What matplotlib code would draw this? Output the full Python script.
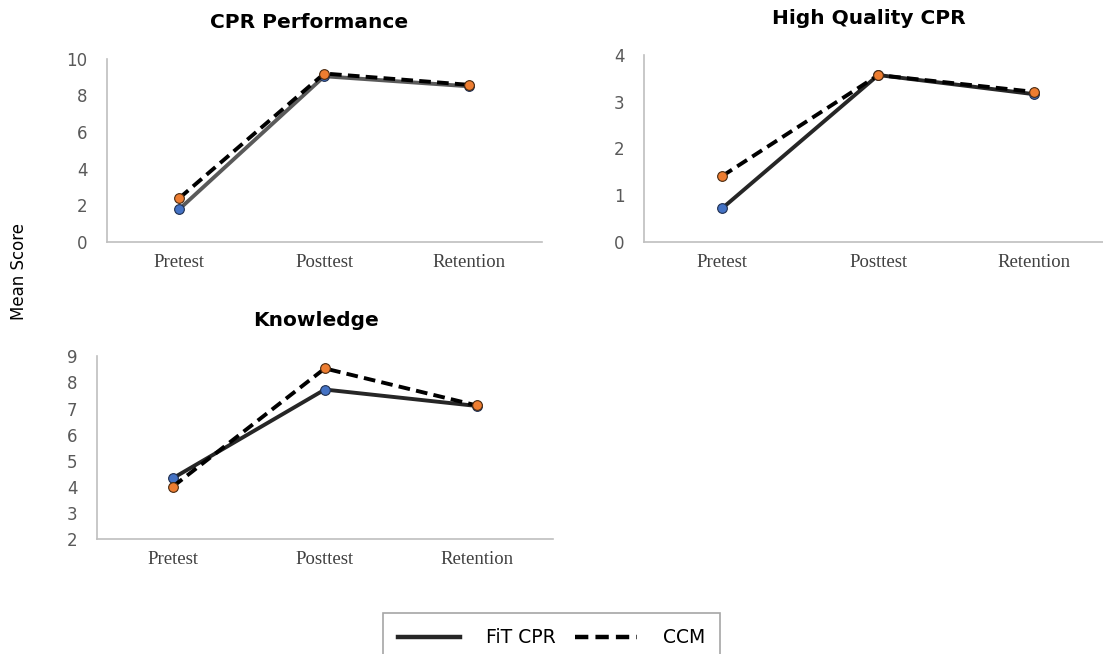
import matplotlib
matplotlib.use("Agg")
import matplotlib.pyplot as plt
from matplotlib.lines import Line2D

# data
stages = ["Pretest", "Posttest", "Retention"]

perf_fit = [1.8, 9.05, 8.5]
perf_ccm = [2.4, 9.2, 8.58]

hq_fit = [0.72, 3.57, 3.16]
hq_ccm = [1.41, 3.57, 3.21]

know_fit = [4.33, 7.73, 7.1]
know_ccm = [4.01, 8.54, 7.12]

BLUE = "#4472C4"
ORANGE = "#ED7D31"
SPINE = "#BFBFBF"
DASH = (0, (3, 1.6))


def panel(ax, fit, ccm, title, title_x, ylim, yticks, xlim, fit_color="#262626"):
    x = range(len(stages))
    ax.plot(x, fit, color=fit_color, lw=2.8, marker="o", ms=7,
            markerfacecolor=BLUE, markeredgecolor="#1f2f4f", markeredgewidth=0.8, zorder=3)
    ax.plot(x, ccm, color="black", lw=2.8, ls=DASH, marker="o", ms=7,
            markerfacecolor=ORANGE, markeredgecolor="#4a2a10", markeredgewidth=0.8, zorder=4)
    ax.set_ylim(*ylim)
    ax.set_yticks(yticks)
    ax.set_xlim(*xlim)
    ax.set_xticks(list(x))
    ax.set_xticklabels(stages, fontfamily="Liberation Serif", fontsize=13.5, color="#404040")
    ax.tick_params(axis="y", labelsize=12, labelcolor="#595959", length=0, pad=14)
    ax.tick_params(axis="x", length=0, pad=9)
    for s in ["top", "right"]:
        ax.spines[s].set_visible(False)
    for s in ["left", "bottom"]:
        ax.spines[s].set_color(SPINE)
        ax.spines[s].set_linewidth(1.2)
    ax.set_title(title, x=title_x, fontsize=14.5, fontweight="bold", pad=22)


fig = plt.figure(figsize=(11.03, 6.54), dpi=100)

ax1 = fig.add_axes([0.097, 0.630, 0.394, 0.280])
panel(ax1, perf_fit, perf_ccm, "CPR Performance", 0.464, (0, 10), range(0, 11, 2),
      (-0.5, 2.5), fit_color="#5a5a5a")

ax2 = fig.add_axes([0.584, 0.630, 0.416, 0.286])
panel(ax2, hq_fit, hq_ccm, "High Quality CPR", 0.49, (0, 4), range(0, 5), (-0.5, 2.44))

ax3 = fig.add_axes([0.088, 0.176, 0.413, 0.279])
panel(ax3, know_fit, know_ccm, "Knowledge", 0.48, (2, 9), range(2, 10), (-0.5, 2.5))

fig.text(0.017, 0.585, "Mean Score", rotation=90, fontsize=12, va="center", ha="center")

handles = [Line2D([], [], color="#262626", lw=3.2),
           Line2D([], [], color="black", lw=3.2, ls=DASH)]
fig.legend(handles, ["FiT CPR", "CCM"], loc="upper center", bbox_to_anchor=(0.5, 0.062),
           ncol=2, frameon=True, fontsize=13.5, handlelength=3.3, handletextpad=1.4,
           columnspacing=1.0, fancybox=False, edgecolor="#A6A6A6", borderpad=0.8,
           borderaxespad=0, framealpha=1)
fig.legends[0].get_frame().set_linewidth(1.2)

fig.savefig("out.png", dpi=100)
